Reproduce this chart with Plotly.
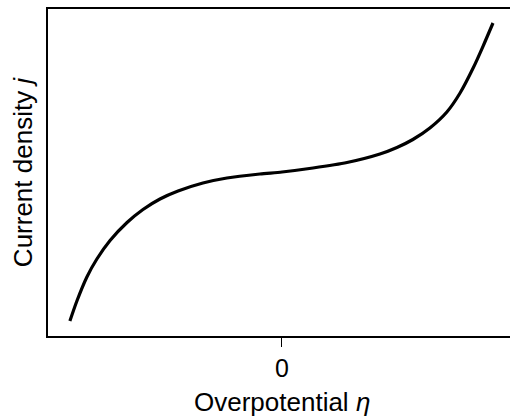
import plotly.graph_objects as go

# Overpotential (eta, arbitrary units) and current density (j, arbitrary units)
eta = [-0.998, -0.965, -0.918, -0.871, -0.809, -0.729, -0.654, -0.574, -0.489, -0.372, -0.259, -0.104,
       0.000, 0.146, 0.306, 0.461, 0.541, 0.616, 0.696, 0.776, 0.838, 0.899, 0.946, 0.993]
j = [-1.49, -1.29, -1.05, -0.87, -0.685, -0.505, -0.375, -0.27, -0.19, -0.11, -0.06, -0.02,
     0.00, 0.04, 0.095, 0.18, 0.245, 0.325, 0.44, 0.60, 0.79, 1.037, 1.257, 1.49]
x_tick_vals = [0]
x_tick_text = ["0"]

FONT = "Liberation Sans, Arial, sans-serif"
FS = 26

fig = go.Figure()
fig.add_trace(go.Scatter(x=eta, y=j, mode="lines",
                         line=dict(color="black", width=3.2, shape="spline", smoothing=0.7),
                         hoverinfo="skip", showlegend=False))

fig.update_layout(
    width=510, height=416,
    margin=dict(l=48, r=0, t=9, b=80),
    paper_bgcolor="white", plot_bgcolor="white",
    font=dict(family=FONT, size=FS, color="black"),
    xaxis=dict(range=[-1.101, 1.073], showgrid=False, zeroline=False,
               showline=True, linecolor="black", linewidth=1.5, mirror=True,
               ticks="outside", ticklen=9, tickwidth=1.3, tickcolor="black",
               tickvals=x_tick_vals, ticktext=x_tick_text,
               tickfont=dict(family=FONT, size=FS - 1, color="black")),
    yaxis=dict(range=[-1.64, 1.63], showgrid=False, zeroline=False,
               showline=True, linecolor="black", linewidth=1.5, mirror=False,
               showticklabels=False, ticks="",
               title=dict(text="Current density <i>j</i>", standoff=6,
                          font=dict(family=FONT, size=FS, color="black"))),
    annotations=[dict(text="Overpotential <i>η</i>", x=0, xref="x", y=0, yref="paper",
                      yanchor="top", xanchor="center", yshift=-49, showarrow=False,
                      font=dict(family=FONT, size=FS, color="black"))],
)

fig.write_html("out.html")
